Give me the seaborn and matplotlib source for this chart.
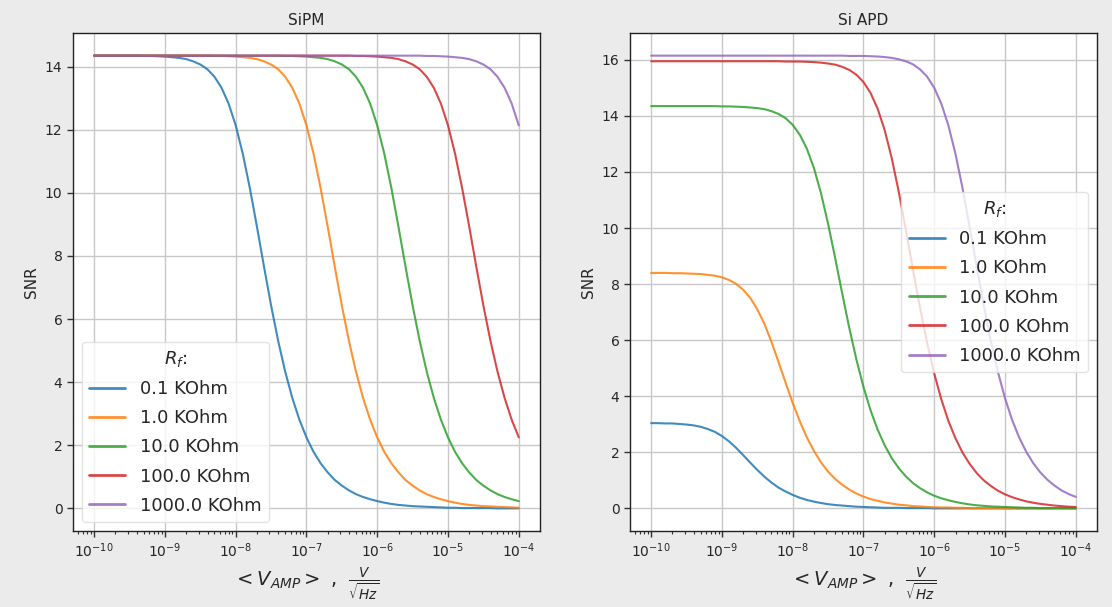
import pandas as pd
import matplotlib
matplotlib.use("Agg")
import matplotlib.pyplot as plt
from matplotlib.ticker import NullFormatter
import seaborn as sns

# x sample points: 1e-10 .. 1e-4 in 0.1-decade steps
v_amp = [10 ** (-10 + 0.1 * k) for k in range(61)]
x_ticks = [1e-10, 1e-9, 1e-8, 1e-7, 1e-6, 1e-5, 1e-4]
rf_labels = ["0.1 KOhm", "1.0 KOhm", "10.0 KOhm", "100.0 KOhm", "1000.0 KOhm"]

# ---- SiPM panel ----
sipm_01 = [14.35, 14.35, 14.35, 14.35, 14.35, 14.35, 14.35, 14.34, 14.34, 14.33,
           14.32, 14.30, 14.28, 14.24, 14.17, 14.07, 13.92, 13.68, 13.33, 12.83,
           12.14, 11.24, 10.15, 8.93, 7.66, 6.43, 5.31, 4.33, 3.50, 2.81,
           2.25, 1.79, 1.43, 1.14, 0.90, 0.72, 0.57, 0.45, 0.36, 0.29,
           0.23, 0.18, 0.14, 0.11, 0.09, 0.07, 0.06, 0.05, 0.04, 0.03,
           0.02, 0.02, 0.01, 0.01, 0.01, 0.01, 0.01, 0.00, 0.00, 0.00,
           0.00]
sipm_1 = [14.35, 14.35, 14.35, 14.35, 14.35, 14.35, 14.35, 14.35, 14.35, 14.35,
          14.35, 14.35, 14.35, 14.35, 14.35, 14.35, 14.35, 14.34, 14.34, 14.33,
          14.32, 14.30, 14.28, 14.24, 14.17, 14.07, 13.92, 13.68, 13.33, 12.83,
          12.14, 11.24, 10.15, 8.93, 7.66, 6.43, 5.31, 4.33, 3.50, 2.81,
          2.25, 1.79, 1.43, 1.14, 0.90, 0.72, 0.57, 0.45, 0.36, 0.29,
          0.23, 0.18, 0.14, 0.11, 0.09, 0.07, 0.06, 0.05, 0.04, 0.03,
          0.02]
sipm_10 = [14.35, 14.35, 14.35, 14.35, 14.35, 14.35, 14.35, 14.35, 14.35, 14.35,
           14.35, 14.35, 14.35, 14.35, 14.35, 14.35, 14.35, 14.35, 14.35, 14.35,
           14.35, 14.35, 14.35, 14.35, 14.35, 14.35, 14.35, 14.34, 14.34, 14.33,
           14.32, 14.30, 14.28, 14.24, 14.17, 14.07, 13.92, 13.68, 13.33, 12.83,
           12.14, 11.24, 10.15, 8.93, 7.66, 6.43, 5.31, 4.33, 3.50, 2.81,
           2.25, 1.79, 1.43, 1.14, 0.90, 0.72, 0.57, 0.45, 0.36, 0.29,
           0.23]
sipm_100 = [14.35, 14.35, 14.35, 14.35, 14.35, 14.35, 14.35, 14.35, 14.35, 14.35,
            14.35, 14.35, 14.35, 14.35, 14.35, 14.35, 14.35, 14.35, 14.35, 14.35,
            14.35, 14.35, 14.35, 14.35, 14.35, 14.35, 14.35, 14.35, 14.35, 14.35,
            14.35, 14.35, 14.35, 14.35, 14.35, 14.35, 14.35, 14.34, 14.34, 14.33,
            14.32, 14.30, 14.28, 14.24, 14.17, 14.07, 13.92, 13.68, 13.33, 12.83,
            12.14, 11.24, 10.15, 8.93, 7.66, 6.43, 5.31, 4.33, 3.50, 2.81,
            2.25]
sipm_1000 = [14.35, 14.35, 14.35, 14.35, 14.35, 14.35, 14.35, 14.35, 14.35, 14.35,
             14.35, 14.35, 14.35, 14.35, 14.35, 14.35, 14.35, 14.35, 14.35, 14.35,
             14.35, 14.35, 14.35, 14.35, 14.35, 14.35, 14.35, 14.35, 14.35, 14.35,
             14.35, 14.35, 14.35, 14.35, 14.35, 14.35, 14.35, 14.35, 14.35, 14.35,
             14.35, 14.35, 14.35, 14.35, 14.35, 14.35, 14.35, 14.34, 14.34, 14.33,
             14.32, 14.30, 14.28, 14.24, 14.17, 14.07, 13.92, 13.68, 13.33, 12.83,
             12.14]

# ---- Si APD panel ----
apd_01 = [3.04, 3.04, 3.03, 3.03, 3.01, 2.99, 2.96, 2.91, 2.83, 2.73,
          2.58, 2.39, 2.16, 1.90, 1.63, 1.37, 1.13, 0.92, 0.74, 0.60,
          0.48, 0.38, 0.30, 0.24, 0.19, 0.15, 0.12, 0.10, 0.08, 0.06,
          0.05, 0.04, 0.03, 0.02, 0.02, 0.02, 0.01, 0.01, 0.01, 0.01,
          0.00, 0.00, 0.00, 0.00, 0.00, 0.00, 0.00, 0.00, 0.00, 0.00,
          0.00, 0.00, 0.00, 0.00, 0.00, 0.00, 0.00, 0.00, 0.00, 0.00,
          0.00]
apd_1 = [8.40, 8.40, 8.40, 8.39, 8.39, 8.38, 8.37, 8.36, 8.33, 8.30,
         8.24, 8.15, 8.01, 7.80, 7.51, 7.10, 6.58, 5.94, 5.22, 4.48,
         3.76, 3.11, 2.53, 2.05, 1.64, 1.31, 1.05, 0.84, 0.67, 0.53,
         0.42, 0.33, 0.27, 0.21, 0.17, 0.13, 0.11, 0.08, 0.07, 0.05,
         0.04, 0.03, 0.03, 0.02, 0.02, 0.01, 0.01, 0.01, 0.01, 0.01,
         0.00, 0.00, 0.00, 0.00, 0.00, 0.00, 0.00, 0.00, 0.00, 0.00,
         0.00]
apd_10 = [14.35, 14.35, 14.35,
          14.35, 14.35, 14.35, 14.35, 14.35, 14.35, 14.35, 14.34, 14.34, 14.33,
          14.32, 14.30, 14.28, 14.24, 14.17, 14.07, 13.92, 13.68, 13.33, 12.83,
          12.14, 11.24, 10.15, 8.93, 7.66, 6.43, 5.31, 4.33, 3.50, 2.81,
          2.25, 1.79, 1.43, 1.14, 0.90, 0.72, 0.57, 0.45, 0.36, 0.29,
          0.23, 0.18, 0.14, 0.11, 0.09, 0.07, 0.06, 0.05, 0.04, 0.03,
          0.02, 0.02, 0.01, 0.01, 0.01, 0.01, 0.01, 0.00]
apd_100 = [15.95, 15.95, 15.95, 15.95, 15.95, 15.95, 15.95, 15.95, 15.95, 15.95,
           15.95, 15.95, 15.95, 15.95, 15.95, 15.95, 15.95, 15.95, 15.95,
           15.94, 15.94, 15.94, 15.93, 15.92, 15.90, 15.87, 15.83, 15.75, 15.64,
           15.47, 15.21, 14.82, 14.26, 13.49, 12.49, 11.28, 9.92, 8.51, 7.15,
           5.90, 4.81, 3.89, 3.12, 2.50, 1.99, 1.59, 1.26, 1.00, 0.80,
           0.63, 0.50, 0.40, 0.32, 0.25, 0.20, 0.16, 0.13, 0.10, 0.08,
           0.06, 0.05]
apd_1000 = [16.15, 16.15, 16.15, 16.15, 16.15, 16.15, 16.15, 16.15, 16.15, 16.15,
            16.15, 16.15, 16.15, 16.15, 16.15, 16.15, 16.15, 16.15, 16.15, 16.15,
            16.15, 16.15, 16.15, 16.15, 16.15, 16.15, 16.15, 16.15,
            16.14, 16.14, 16.14, 16.13, 16.12, 16.10, 16.07, 16.02, 15.95, 15.84,
            15.66, 15.40, 15.00, 14.44, 13.66, 12.65, 11.42, 10.04, 8.62, 7.24,
            5.97, 4.87, 3.93, 3.16, 2.53, 2.02, 1.61, 1.28, 1.02, 0.81,
            0.64, 0.51, 0.41]

for s in (sipm_01, sipm_1, sipm_10, sipm_100, sipm_1000, apd_01, apd_1, apd_10, apd_100, apd_1000):
    assert len(s) == len(v_amp), len(s)


def long_frame(series):
    rows = []
    for lab, vals in zip(rf_labels, series):
        for x, y in zip(v_amp, vals):
            rows.append({"V": x, "SNR": y, "Rf": lab})
    return pd.DataFrame(rows)


df_sipm = long_frame([sipm_01, sipm_1, sipm_10, sipm_100, sipm_1000])
df_apd = long_frame([apd_01, apd_1, apd_10, apd_100, apd_1000])

sns.set_style("whitegrid")
plt.rcParams["font.family"] = ["DejaVu Sans"]

fig = plt.figure(figsize=(11.12, 6.07), dpi=100, facecolor="#ebebeb")
ax1 = fig.add_axes([0.0656, 0.1252, 0.42, 0.8204])
ax2 = fig.add_axes([0.5665, 0.1252, 0.42, 0.8204])

palette = sns.color_palette("tab10", 5)
xlabel = r"$<V_{AMP}>$ ,  $\frac{V}{\sqrt{Hz}}$"

for ax, df, title, loc in [(ax1, df_sipm, "SiPM", "lower left"), (ax2, df_apd, "Si APD", "center right")]:
    sns.lineplot(data=df, x="V", y="SNR", hue="Rf", palette=palette, ax=ax, linewidth=1.5, alpha=0.85)
    ax.set_xscale("log")
    ax.set_xticks(x_ticks)
    ax.xaxis.set_minor_formatter(NullFormatter())
    ax.set_title(title, fontsize=11)
    ax.set_xlabel(xlabel, fontsize=14)
    ax.set_ylabel("SNR", fontsize=11)
    ax.grid(True, which="major", color="#c8c8c8", linewidth=1.0)
    ax.grid(False, which="minor")
    ax.tick_params(axis="both", which="major", length=4, width=1, labelsize=10,
                   bottom=True, left=True, color="#333333")
    ax.tick_params(axis="x", which="minor", length=2, width=0.8, bottom=True, color="#333333")
    for s in ax.spines.values():
        s.set_color("#222222")
        s.set_linewidth(1.0)
    leg = ax.legend(title=r"$R_f$:", loc=loc, fontsize=13, title_fontsize=13,
                    frameon=True, labelspacing=0.62)
    leg.get_frame().set_edgecolor("#dddddd")
    for line in leg.get_lines():
        line.set_linewidth(2.0)

fig.savefig("out.png", dpi=100, facecolor=fig.get_facecolor())
